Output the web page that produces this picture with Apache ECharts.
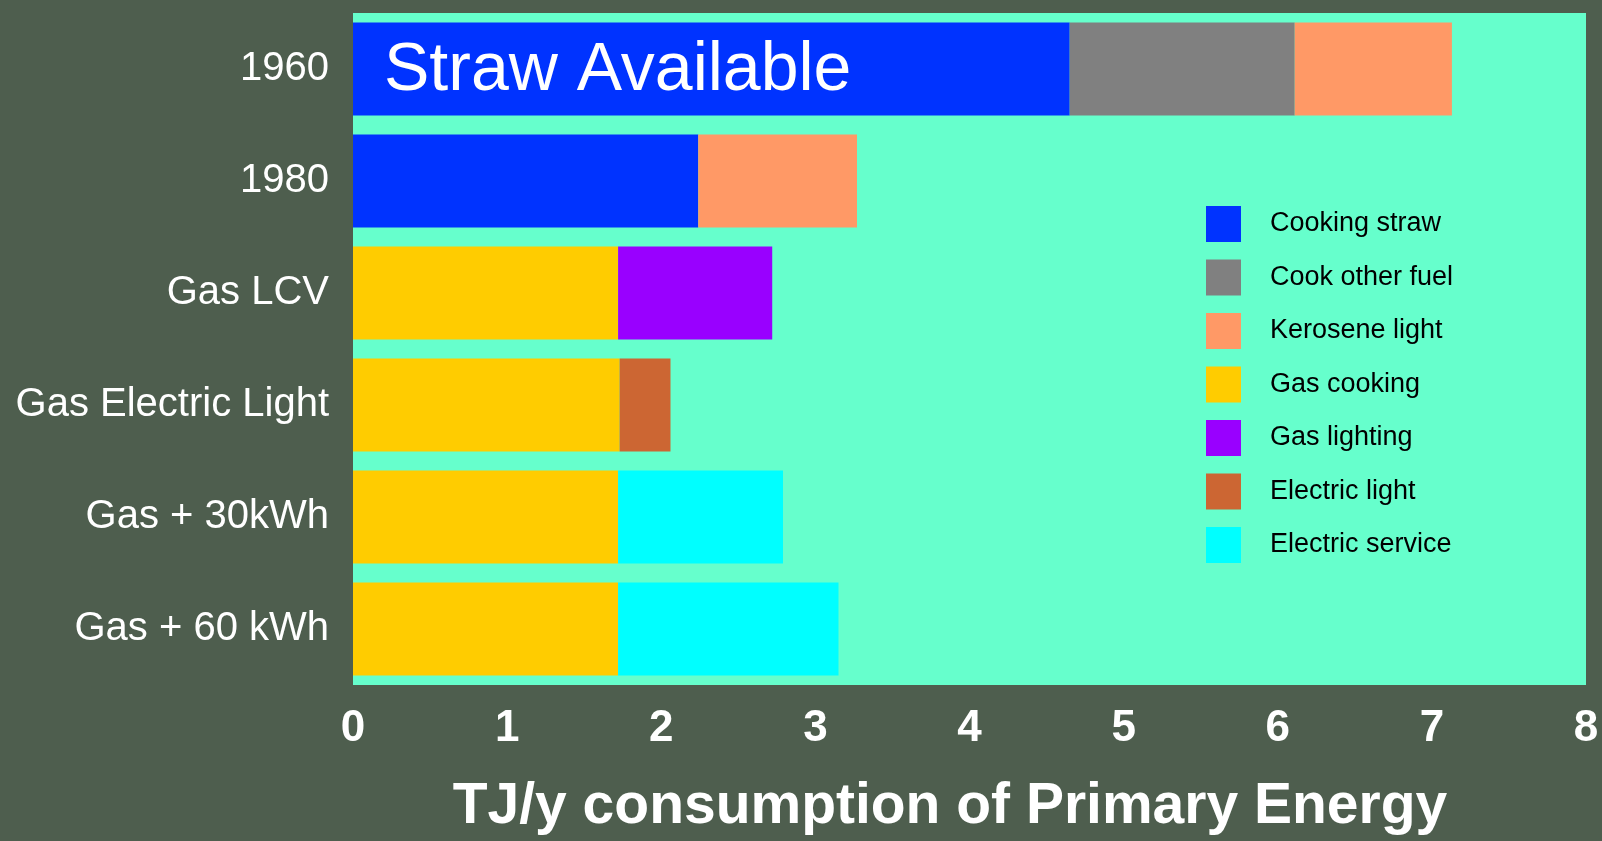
<!DOCTYPE html>
<html>
<head>
<meta charset="utf-8">
<script src="https://cdn.jsdelivr.net/npm/echarts@6/dist/echarts.min.js"></script>
<style>
html,body{margin:0;padding:0;background:#4e5e4e;}
#chart{width:1602px;height:841px;}
</style>
</head>
<body>
<div id="chart"></div>
<script>
// categories, top to bottom
var categories = ['1960', '1980', 'Gas LCV', 'Gas Electric Light', 'Gas + 30kWh', 'Gas + 60 kWh'];
var xTicks = [0, 1, 2, 3, 4, 5, 6, 7, 8];

// TJ/y per end use
var cookingStraw    = [4.65, 2.24, null, null, null, null];
var cookOtherFuel   = [1.46, null, null, null, null, null];
var keroseneLight   = [1.02, 1.03, null, null, null, null];
var gasCooking      = [null, null, 1.72, 1.73, 1.72, 1.72];
var gasLighting     = [null, null, 1.00, null, null, null];
var electricLight   = [null, null, null, 0.33, null, null];
var electricService = [null, null, null, null, 1.07, 1.43];

var seriesNames = ['Cooking straw', 'Cook other fuel', 'Kerosene light', 'Gas cooking', 'Gas lighting', 'Electric light', 'Electric service'];
var seriesData = [cookingStraw, cookOtherFuel, keroseneLight, gasCooking, gasLighting, electricLight, electricService];
var colors = ['#0033ff', '#808080', '#ff9966', '#ffcc00', '#9900ff', '#cc6633', '#00ffff'];

var chart = echarts.init(document.getElementById('chart'));

var series = seriesNames.map(function (name, i) {
    var data = seriesData[i].slice();
    if (i === 0) {
        // big caption sitting on the 1960 straw bar
        data[0] = {
            value: data[0],
            label: {
                show: true,
                position: 'insideLeft',
                distance: 31,
                offset: [0, 2],
                formatter: 'Straw Available',
                color: '#fff',
                fontSize: 68,
                fontFamily: 'Liberation Sans, Arial, sans-serif'
            }
        };
    }
    return {
        name: name,
        type: 'bar',
        stack: 'total',
        barCategoryGap: '17%',
        itemStyle: {color: colors[i]},
        data: data
    };
});

var option = {
    animation: false,
    backgroundColor: '#4e5e4e',
    color: colors,
    grid: {
        left: 353,
        right: 16,
        top: 13,
        bottom: 153,
        show: true,
        backgroundColor: '#66ffcc',
        borderWidth: 0
    },
    legend: {
        orient: 'vertical',
        left: 1201,
        top: 201,
        itemWidth: 35,
        itemHeight: 36,
        itemGap: 17.5,
        icon: 'rect',
        data: seriesNames,
        textStyle: {
            color: '#000',
            fontSize: 27,
            fontFamily: 'Liberation Sans, Arial, sans-serif',
            padding: [0, 0, 0, 24]
        }
    },
    xAxis: {
        type: 'value',
        min: 0,
        max: 8,
        interval: 1,
        axisLine: {show: false},
        axisTick: {show: false},
        splitLine: {show: false},
        axisLabel: {
            color: '#fff',
            fontSize: 44,
            fontWeight: 'bold',
            margin: 22,
            fontFamily: 'Liberation Sans, Arial, sans-serif',
            formatter: function (v) { return xTicks.indexOf(v) >= 0 ? String(v) : ''; }
        },
        name: 'TJ/y consumption of Primary Energy',
        nameLocation: 'middle',
        nameGap: 94,
        nameTextStyle: {
            color: '#fff',
            fontSize: 57,
            fontWeight: 'bold',
            fontFamily: 'Liberation Sans, Arial, sans-serif',
            padding: [0, 39, 0, 0]
        }
    },
    yAxis: {
        type: 'category',
        data: categories,
        inverse: true,
        axisLine: {show: false},
        axisTick: {show: false},
        axisLabel: {
            color: '#fff',
            fontSize: 40,
            margin: 24,
            padding: [5, 0, 0, 0],
            fontFamily: 'Liberation Sans, Arial, sans-serif'
        }
    },
    series: series
};

chart.setOption(option);
</script>
</body>
</html>
